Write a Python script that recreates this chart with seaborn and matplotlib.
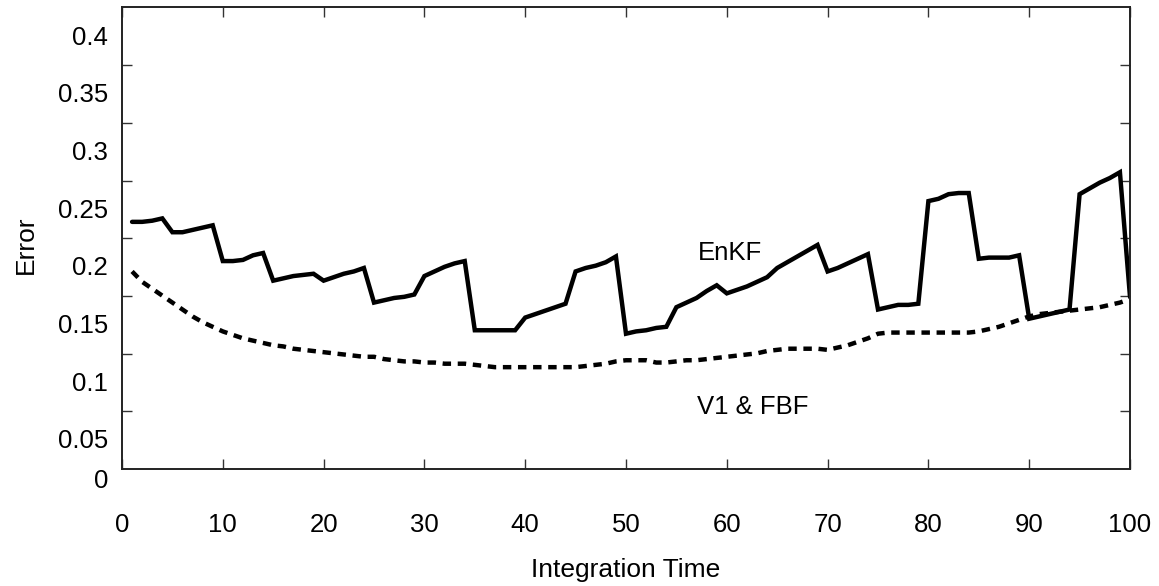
import numpy as np
import pandas as pd
import matplotlib
matplotlib.use("Agg")
import matplotlib.pyplot as plt
import matplotlib.transforms as mtransforms
import seaborn as sns

# ---- data ----
time = list(range(1, 101))
enkf = [0.238, 0.238, 0.239, 0.241, 0.229, 0.229, 0.231, 0.233, 0.235, 0.204,
        0.204, 0.205, 0.209, 0.211, 0.187, 0.189, 0.191, 0.192, 0.193, 0.187,
        0.190, 0.193, 0.195, 0.198, 0.168, 0.170, 0.172, 0.173, 0.175, 0.191,
        0.195, 0.199, 0.202, 0.204, 0.144, 0.144, 0.144, 0.144, 0.144, 0.155,
        0.158, 0.161, 0.164, 0.167, 0.195, 0.198, 0.200, 0.203, 0.208, 0.141,
        0.143, 0.144, 0.146, 0.147, 0.164, 0.168, 0.172, 0.178, 0.183, 0.176,
        0.179, 0.182, 0.186, 0.190, 0.198, 0.203, 0.208, 0.213, 0.218, 0.195,
        0.198, 0.202, 0.206, 0.210, 0.162, 0.164, 0.166, 0.166, 0.167, 0.256,
        0.258, 0.262, 0.263, 0.263, 0.206, 0.207, 0.207, 0.207, 0.209, 0.154,
        0.156, 0.158, 0.160, 0.162, 0.262, 0.267, 0.272, 0.276, 0.281, 0.173]
v1_fbf = [0.195, 0.186, 0.180, 0.174, 0.168, 0.162, 0.156, 0.151, 0.147, 0.143,
          0.140, 0.137, 0.135, 0.133, 0.131, 0.130, 0.128, 0.127, 0.126, 0.125,
          0.124, 0.123, 0.122, 0.121, 0.121, 0.119, 0.118, 0.117, 0.117, 0.116,
          0.116, 0.115, 0.115, 0.115, 0.114, 0.113, 0.112, 0.112, 0.112, 0.112,
          0.112, 0.112, 0.112, 0.112, 0.112, 0.113, 0.114, 0.115, 0.117, 0.118,
          0.118, 0.118, 0.116, 0.116, 0.117, 0.118, 0.118, 0.119, 0.120, 0.121,
          0.122, 0.123, 0.124, 0.126, 0.127, 0.128, 0.128, 0.128, 0.128, 0.127,
          0.129, 0.131, 0.134, 0.137, 0.141, 0.142, 0.142, 0.142, 0.142, 0.142,
          0.142, 0.142, 0.142, 0.142, 0.143, 0.145, 0.147, 0.150, 0.153, 0.156,
          0.158, 0.159, 0.160, 0.161, 0.162, 0.163, 0.164, 0.166, 0.168, 0.171]
x_ticks = [0, 10, 20, 30, 40, 50, 60, 70, 80, 90, 100]
y_label_values = [0.05, 0.1, 0.15, 0.2, 0.25, 0.3, 0.35, 0.4]
y_label_texts = ["0.05", "0.1", "0.15", "0.2", "0.25", "0.3", "0.35", "0.4"]

df = pd.DataFrame({"time": time, "EnKF": enkf, "V1 & FBF": v1_fbf})

# ---- style ----
sns.set_style("white")
plt.rcParams["font.family"] = ["Liberation Sans", "DejaVu Sans"]
plt.rcParams["text.color"] = "black"
plt.rcParams["axes.labelcolor"] = "black"
plt.rcParams["xtick.color"] = "black"
plt.rcParams["ytick.color"] = "black"

fig = plt.figure(figsize=(11.59, 5.86), dpi=100)
ax = fig.add_axes([122 / 1159, 1 - 469 / 586, (1130 - 122) / 1159, (469 - 7) / 586])

sns.lineplot(data=df, x="time", y="EnKF", ax=ax, color="black", lw=3.2,
             solid_joinstyle="miter")
sns.lineplot(data=df, x="time", y="V1 & FBF", ax=ax, color="black", lw=3.2,
             linestyle=(0, (1.9, 1.5)))

y0, y1 = 0.0237, 0.4243
ax.set_xlim(0, 100)
ax.set_ylim(y0, y1)

# x ticks
ax.set_xticks(x_ticks)
ax.set_xticklabels([str(v) for v in x_ticks])
ax.tick_params(axis="x", which="major", direction="in", length=7, width=1,
               top=True, bottom=True, labelsize=18.5, pad=32,
               color="#333333", labelcolor="black")

# y: labelled positions without marks, marks on minor grid
ax.set_yticks([y0] + y_label_values)
ax.set_yticklabels(["0"] + y_label_texts)
ax.set_yticks(list(np.arange(y0 + 0.05, y1 - 0.01, 0.05)), minor=True)
ax.tick_params(axis="y", which="major", length=0, labelsize=18.5, pad=10,
               labelcolor="black")
ax.tick_params(axis="y", which="minor", direction="in", length=7, width=1,
               left=True, right=True, color="#333333")
# shift the "0" label slightly below the frame
zero_lbl = ax.get_yticklabels()[0]
zero_lbl.set_transform(zero_lbl.get_transform() +
                       mtransforms.ScaledTranslation(0, -9 / 100, fig.dpi_scale_trans))

for sp in ax.spines.values():
    sp.set_visible(True)
    sp.set_color("#222222")
    sp.set_linewidth(1.4)

ax.set_xlabel("Integration Time", fontsize=19, color="black")
ax.set_ylabel("Error", fontsize=19, color="black")
ax.xaxis.set_label_coords(0.5, -0.193)
ax.yaxis.set_label_coords(-0.083, 0.485)

ax.text(57.1, 0.2049, "EnKF", fontsize=18.5, ha="left", va="baseline", color="black")
ax.text(57.0, 0.0714, "V1 & FBF", fontsize=18.5, ha="left", va="baseline", color="black")

fig.savefig("out.png", dpi=100)
